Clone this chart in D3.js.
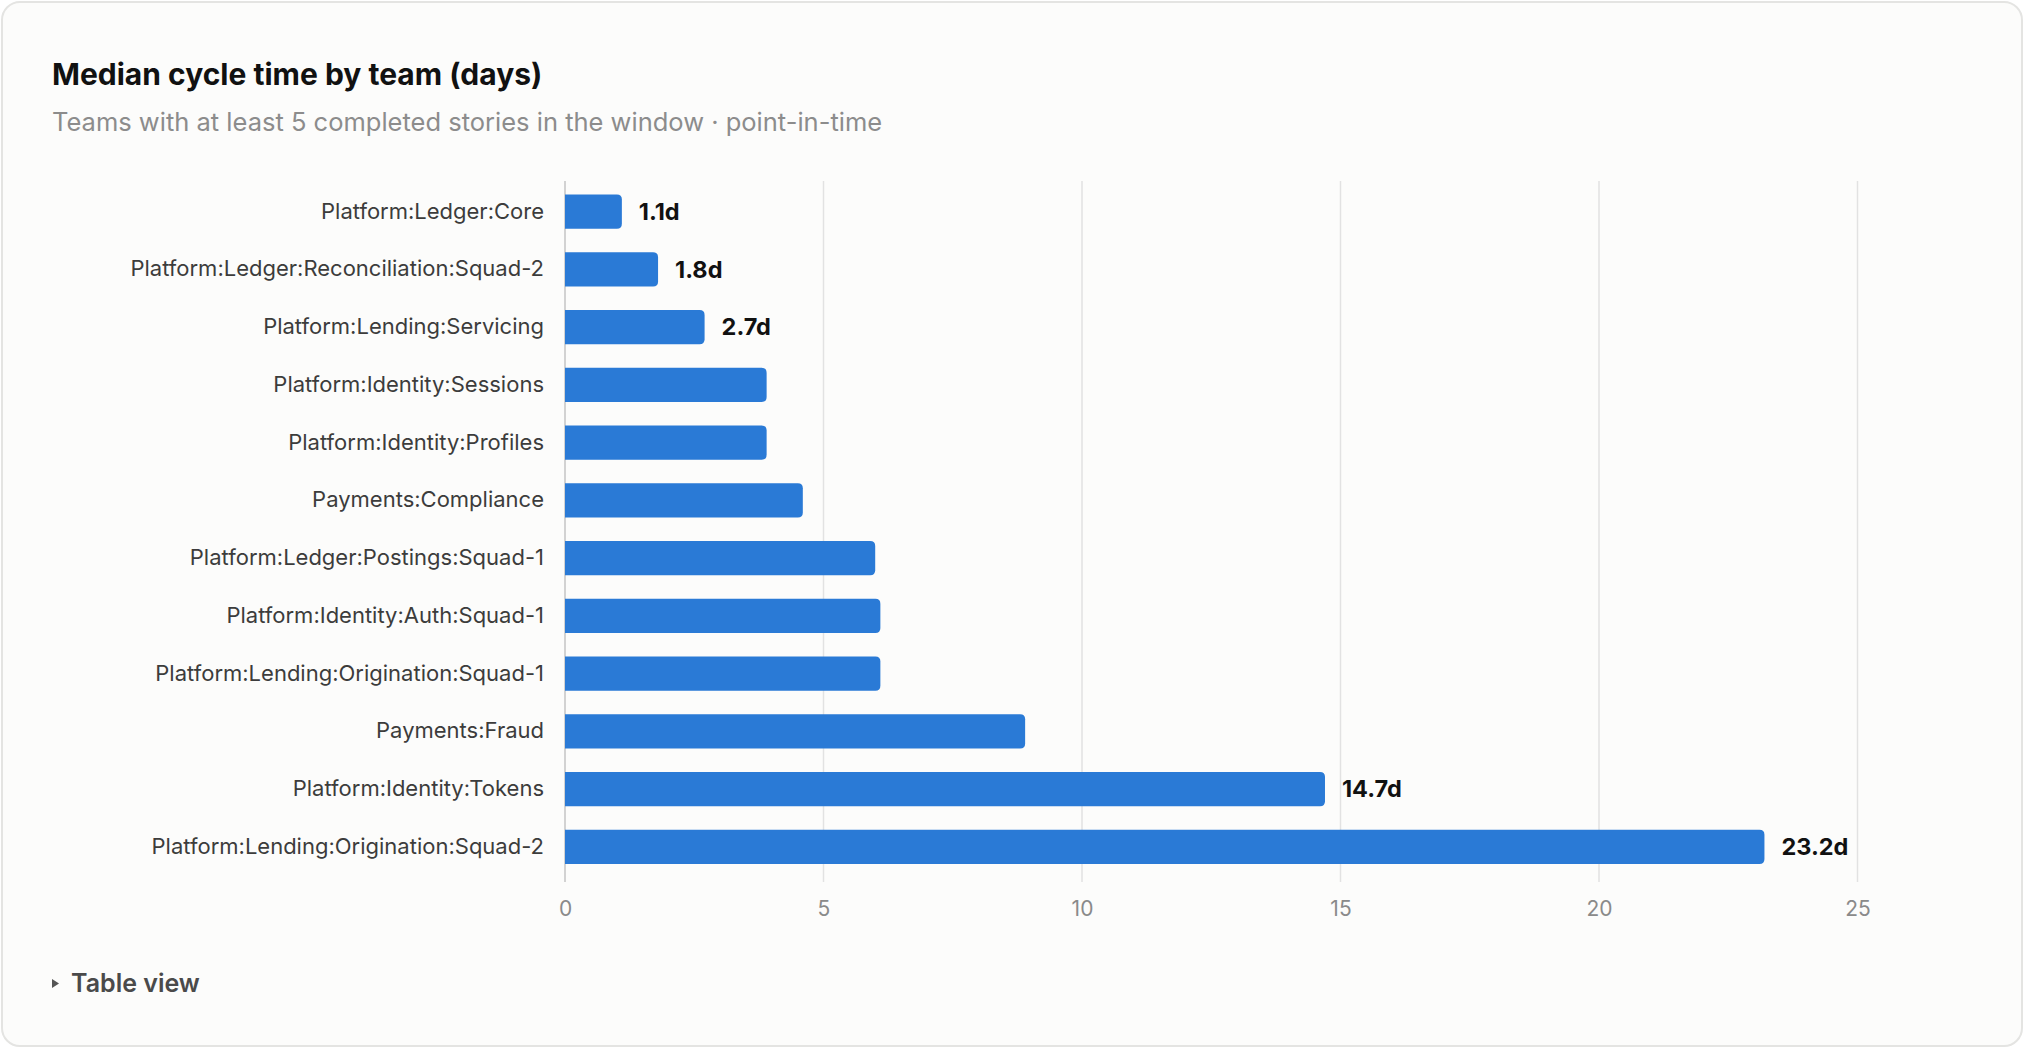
<!DOCTYPE html>
<html>
<head>
<meta charset="utf-8">
<script src="https://cdn.jsdelivr.net/npm/d3@7"></script>
<style>
  html, body { margin: 0; padding: 0; background: #ffffff; }
  svg { display: block; font-family: Inter, "Liberation Sans", sans-serif; }
</style>
</head>
<body>
<div id="chart-container"></div>
<script>
// Teams, top to bottom
const teams = [
    "Platform:Ledger:Core",
    "Platform:Ledger:Reconciliation:Squad-2",
    "Platform:Lending:Servicing",
    "Platform:Identity:Sessions",
    "Platform:Identity:Profiles",
    "Payments:Compliance",
    "Platform:Ledger:Postings:Squad-1",
    "Platform:Identity:Auth:Squad-1",
    "Platform:Lending:Origination:Squad-1",
    "Payments:Fraud",
    "Platform:Identity:Tokens",
    "Platform:Lending:Origination:Squad-2",
];

// Median cycle time, days
const cycleDays = [1.1, 1.8, 2.7, 3.9, 3.9, 4.6, 6.0, 6.1, 6.1, 8.9, 14.7, 23.2];

// Only these bars carry a value label
const labelledTeams = [
    "Platform:Ledger:Core",
    "Platform:Ledger:Reconciliation:Squad-2",
    "Platform:Lending:Servicing",
    "Platform:Identity:Tokens",
    "Platform:Lending:Origination:Squad-2",
];

const xTicks = [0, 5, 10, 15, 20, 25];

const data = teams.map((t, i) => ({ team: t, days: cycleDays[i] }));

const W = 2024;
const H = 1048;

const svg = d3
    .select("#chart-container")
    .append("svg")
    .attr("width", W)
    .attr("height", H);

// Card
svg.append("rect")
    .attr("x", 2)
    .attr("y", 2)
    .attr("width", W - 4)
    .attr("height", H - 4)
    .attr("rx", 18)
    .attr("fill", "#fcfcfb")
    .attr("stroke", "#e4e4e2")
    .attr("stroke-width", 2);

// Title + subtitle
svg.append("text")
    .attr("x", 52)
    .attr("y", 85)
    .attr("font-size", 30)
    .attr("font-weight", 700)
    .attr("fill", "#111")
    .text("Median cycle time by team (days)");

svg.append("text")
    .attr("x", 52)
    .attr("y", 131)
    .attr("font-size", 25.5)
    .attr("fill", "#8c8c8c")
    .text("Teams with at least 5 completed stories in the window \u00b7 point-in-time");

// Scales
const xScale = d3.scaleLinear().domain([0, 25]).range([565, 1857.5]);
const yScale = d3
    .scaleBand()
    .domain(teams)
    .range([183, 875.5])
    .paddingInner(0.41)
    .paddingOuter(0.2);

const gridTop = 181;
const gridBottom = 882;

// Grid lines
svg.append("g")
    .selectAll("line")
    .data(xTicks)
    .enter()
    .append("line")
    .attr("x1", (d) => xScale(d))
    .attr("x2", (d) => xScale(d))
    .attr("y1", gridTop)
    .attr("y2", gridBottom)
    .attr("stroke", (d) => (d === 0 ? "#c4c4c4" : "#e2e2e2"))
    .attr("stroke-width", 1.5);

// x axis labels
const xAxis = d3.axisBottom(xScale).tickValues(xTicks).tickSize(0).tickPadding(0);
const xg = svg.append("g")
    .attr("transform", "translate(0," + 901 + ")")
    .call(xAxis);
xg.select(".domain").remove();
xg.selectAll("text")
    .attr("font-family", "Inter, 'Liberation Sans', sans-serif")
    .attr("font-size", 21)
    .attr("fill", "#8a8a8a")
    .attr("dy", "0.71em");

// y axis labels
const yAxis = d3.axisLeft(yScale).tickSize(0).tickPadding(0);
const yg = svg.append("g")
    .attr("transform", "translate(544,0)")
    .call(yAxis);
yg.select(".domain").remove();
yg.selectAll("text")
    .attr("font-family", "Inter, 'Liberation Sans', sans-serif")
    .attr("font-size", 22)
    .attr("fill", "#3c3c3c");

// Bars, rounded on the right end only
const r = 5;
function barPath(d) {
    const x0 = xScale(0);
    const x1 = xScale(d.days);
    const y0 = yScale(d.team);
    const h = yScale.bandwidth();
    return (
        "M" + x0 + "," + y0 +
        "H" + (x1 - r) +
        "Q" + x1 + "," + y0 + " " + x1 + "," + (y0 + r) +
        "V" + (y0 + h - r) +
        "Q" + x1 + "," + (y0 + h) + " " + (x1 - r) + "," + (y0 + h) +
        "H" + x0 + "Z"
    );
}

svg.append("g")
    .selectAll("path")
    .data(data)
    .enter()
    .append("path")
    .attr("d", barPath)
    .attr("fill", "#2a7ad6");

// Value labels
svg.append("g")
    .selectAll("text")
    .data(data.filter((d) => labelledTeams.includes(d.team)))
    .enter()
    .append("text")
    .attr("x", (d) => xScale(d.days) + 17)
    .attr("y", (d) => yScale(d.team) + yScale.bandwidth() / 2)
    .attr("dy", "0.35em")
    .attr("font-size", 23.5)
    .attr("font-weight", 700)
    .attr("fill", "#111")
    .text((d) => d.days.toFixed(1) + "d");

// Table view toggle
svg.append("path")
    .attr("d", "M52,979 L59,983.5 L52,988 Z")
    .attr("fill", "#555");

svg.append("text")
    .attr("x", 71)
    .attr("y", 992)
    .attr("font-size", 25)
    .attr("font-weight", 600)
    .attr("fill", "#4a4a4a")
    .text("Table view");
</script>
</body>
</html>
